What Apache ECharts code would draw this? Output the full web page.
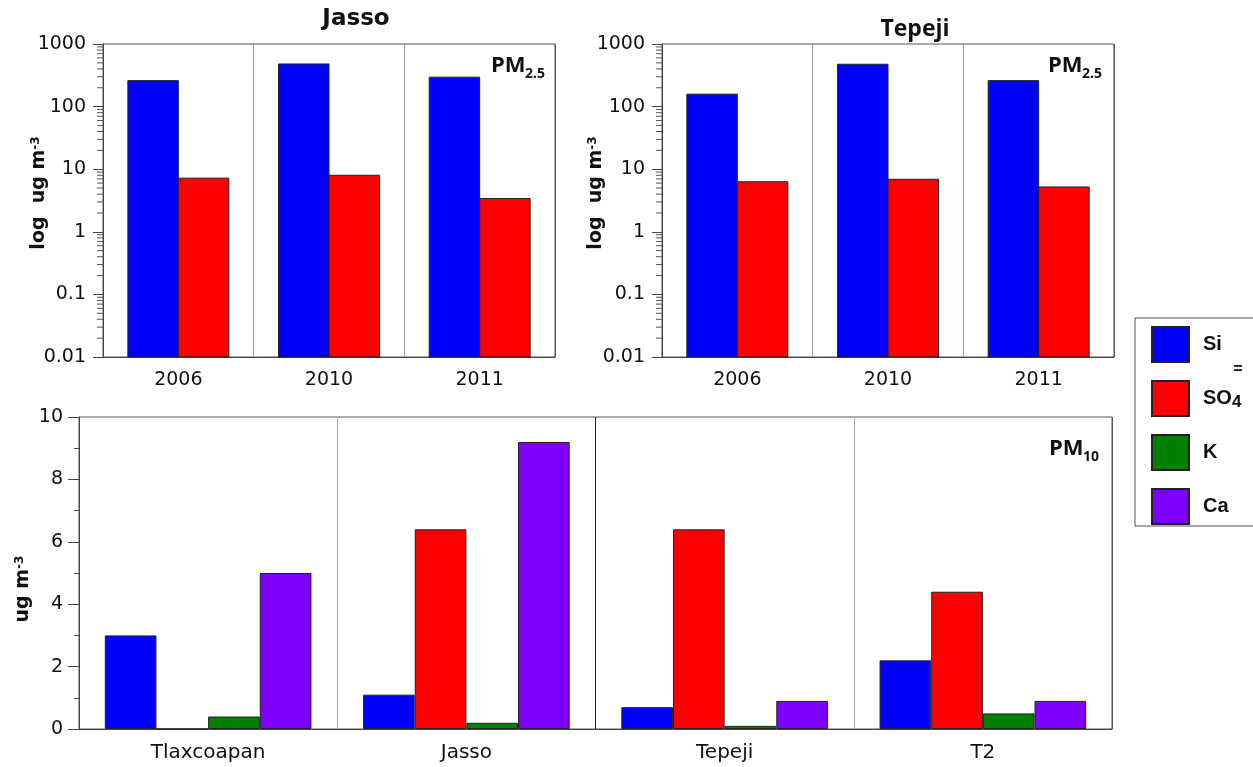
<!DOCTYPE html>
<html>
<head>
<meta charset="utf-8">
<script src="https://cdn.jsdelivr.net/npm/echarts@6/dist/echarts.min.js"></script>
<style>
  html, body { margin: 0; padding: 0; background: #fff; }
  #main { width: 1253px; height: 767px; }
</style>
</head>
<body>
<div id="main"></div>
<script>
// PM2.5 panels (log scale)
var years = ['2006', '2010', '2011'];
var jassoSi = [260, 480, 295];
var jassoSO4 = [7.2, 8.0, 3.4];
var tepejiSi = [158, 475, 260];
var tepejiSO4 = [6.3, 6.9, 5.2];
var logLabels = ['0.01', '0.1', '1', '10', '100', '1000'];

// PM10 panel
var sites = ['Tlaxcoapan', 'Jasso', 'Tepeji', 'T2'];
var pm10Si = [3.0, 1.1, 0.7, 2.2];
var pm10SO4 = [0, 6.4, 6.4, 4.4];
var pm10K = [0.4, 0.2, 0.1, 0.5];
var pm10Ca = [5.0, 9.2, 0.9, 0.9];

// minor ticks of the log axes: 2..9 inside each decade
var logMantissas = [2, 3, 4, 5, 6, 7, 8, 9];
var logDecades = [0.01, 0.1, 1, 10, 100];

var cSi = '#0000ff', cSO4 = '#ff0000', cK = '#008000', cCa = '#8000ff';
var numFont = 'DejaVu Sans';
var boldFont = 'DejaVu Sans';
var logMin = 0.01;

var minorLog = [];
logDecades.forEach(function (d) {
  logMantissas.forEach(function (m) { minorLog.push([0, m * d]); });
});

function catAxis(gi, data, lineColors, size) {
  return {
    type: 'category', gridIndex: gi, data: data, boundaryGap: true,
    axisLine: { lineStyle: { color: '#444', width: 1 } },
    axisTick: { length: 10, lineStyle: { color: '#666' } },
    axisLabel: { color: '#111', fontFamily: numFont, fontSize: size, margin: 14 },
    splitLine: { show: true, lineStyle: { color: lineColors, width: 1 } }
  };
}

function logAxis(gi) {
  return {
    type: 'log', gridIndex: gi, logBase: 10, min: logMin, max: 1000, splitNumber: 5,
    axisLine: { show: true, lineStyle: { color: '#444' } },
    axisTick: { show: true, length: 10, lineStyle: { color: '#444' } },
    axisLabel: {
      color: '#111', fontFamily: numFont, fontSize: 19, margin: 17,
      formatter: function (v) { return logLabels[Math.round(Math.log10(v)) + 2]; }
    },
    splitLine: { show: false }
  };
}

function bar(name, gi, data, color, gap) {
  return {
    type: 'bar', name: name, xAxisIndex: gi, yAxisIndex: gi, data: data,
    barGap: '0%', barCategoryGap: gap,
    itemStyle: { color: color, borderColor: '#222', borderWidth: 1 }
  };
}

// bars on the log panels grow from the axis minimum, not from 1
function logBars(gi, data, color, side) {
  return {
    type: 'custom', xAxisIndex: gi, yAxisIndex: gi, silent: true,
    data: data.map(function (v, i) { return [i, v]; }),
    renderItem: function (params, api) {
      var top = api.coord([api.value(0), api.value(1)]);
      var base = api.coord([api.value(0), logMin]);
      var band = params.coordSys.width / years.length;
      var w = band * 0.335;
      var x = side < 0 ? top[0] - w : top[0];
      return {
        type: 'rect',
        shape: { x: x, y: top[1], width: w, height: base[1] - top[1] },
        style: { fill: color, stroke: '#222', lineWidth: 1 }
      };
    }
  };
}

function minorTicks(gi) {
  return {
    type: 'custom', xAxisIndex: gi, yAxisIndex: gi, data: minorLog,
    silent: true, clip: false, z: 5,
    renderItem: function (params, api) {
      var y = api.coord([0, api.value(1)])[1];
      var x = params.coordSys.x;
      return { type: 'line', shape: { x1: x - 6, y1: y, x2: x, y2: y }, style: { stroke: '#555', lineWidth: 1 } };
    }
  };
}

function pmLabel(x, y, main, sub) {
  return [
    { type: 'text', x: x, y: y, style: { text: main, fontFamily: 'Open Sans', fontWeight: 'bold', fontSize: 22, fill: '#111', align: 'left', verticalAlign: 'middle' } },
    { type: 'text', x: x + 34, y: y + 8, style: { text: sub, fontFamily: 'Open Sans', fontWeight: 'bold', fontSize: 14, fill: '#111', align: 'left', verticalAlign: 'middle' } }
  ];
}

function yTitle(x, y, txt) {
  return {
    type: 'text', x: x, y: y, rotation: Math.PI / 2,
    style: {
      text: txt, fontFamily: boldFont, fontWeight: 'bold', fontSize: 19, fill: '#111',
      align: 'center', verticalAlign: 'middle',
      rich: { sup: { fontFamily: boldFont, fontWeight: 'bold', fontSize: 12, fill: '#111', verticalAlign: 'top' } }
    }
  };
}

var chart = echarts.init(document.getElementById('main'), null, { renderer: 'canvas' });
chart.setOption({
  animation: false,
  backgroundColor: '#fff',
  grid: [
    { left: 103, top: 44, width: 452, height: 313, show: true, borderColor: '#555', borderWidth: 1, backgroundColor: 'transparent' },
    { left: 662, top: 44, width: 452, height: 313, show: true, borderColor: '#555', borderWidth: 1, backgroundColor: 'transparent' },
    { left: 79, top: 417, width: 1033, height: 312, show: true, borderColor: '#555', borderWidth: 1, backgroundColor: 'transparent' }
  ],
  xAxis: [
    catAxis(0, years, ['#444', '#999', '#999', '#555'], 19),
    catAxis(1, years, ['#444', '#999', '#999', '#555'], 19),
    catAxis(2, sites, ['#444', '#aaa', '#222', '#aaa', '#555'], 20)
  ],
  yAxis: [
    logAxis(0),
    logAxis(1),
    {
      type: 'value', gridIndex: 2, min: 0, max: 10, interval: 2,
      axisLine: { show: true, lineStyle: { color: '#444' } },
      axisTick: { show: true, length: 11, lineStyle: { color: '#444' } },
      minorTick: { show: true, splitNumber: 2, length: 5, lineStyle: { color: '#444' } },
      axisLabel: { color: '#111', fontFamily: numFont, fontSize: 19, margin: 16 },
      splitLine: { show: false }
    }
  ],
  legend: {
    data: ['Si', 'SO4', 'K', 'Ca'],
    orient: 'vertical', left: 1135, top: 318,
    itemWidth: 37, itemHeight: 35, itemGap: 17,
    padding: [8, 80, 1, 16],
    borderColor: '#555', borderWidth: 1,
    icon: 'rect',
    selectedMode: false,
    formatter: function (n) { return n === 'SO4' ? 'SO{sub|4}' : n; },
    textStyle: {
      fontFamily: 'Liberation Sans', fontWeight: 'bold', fontSize: 20, color: '#111',
      padding: [0, 0, 0, 9],
      rich: { sub: { fontFamily: 'Liberation Sans', fontWeight: 'bold', fontSize: 17, color: '#111', padding: [8, 0, 0, 0] } }
    }
  },
  series: [
    bar('Si', 2, pm10Si, cSi, '20%'),
    bar('SO4', 2, pm10SO4, cSO4, '20%'),
    bar('K', 2, pm10K, cK, '20%'),
    bar('Ca', 2, pm10Ca, cCa, '20%'),
    logBars(0, jassoSi, cSi, -1),
    logBars(0, jassoSO4, cSO4, 1),
    logBars(1, tepejiSi, cSi, -1),
    logBars(1, tepejiSO4, cSO4, 1),
    minorTicks(0),
    minorTicks(1)
  ],
  graphic: [
    { type: 'text', x: 356, y: 19, style: { text: 'Jasso', fontFamily: boldFont, fontWeight: 'bold', fontSize: 23, fill: '#111', align: 'center', verticalAlign: 'middle' } },
    { type: 'text', x: 915, y: 29, style: { text: 'Tepeji', fontFamily: 'Open Sans', fontWeight: 'bold', fontSize: 23, fill: '#111', align: 'center', verticalAlign: 'middle' } },
    yTitle(39, 193, 'log  ug m{sup|-3}'),
    yTitle(596, 193, 'log  ug m{sup|-3}'),
    yTitle(23, 589, 'ug m{sup|-3}'),
    { type: 'text', x: 1238, y: 370, style: { text: '=', fontFamily: 'Liberation Sans', fontWeight: 'bold', fontSize: 16, fill: '#111', align: 'center', verticalAlign: 'middle' } }
  ].concat(pmLabel(491, 66, 'PM', '2.5'))
   .concat(pmLabel(1048, 66, 'PM', '2.5'))
   .concat(pmLabel(1049, 449, 'PM', '10'))
});
</script>
</body>
</html>
